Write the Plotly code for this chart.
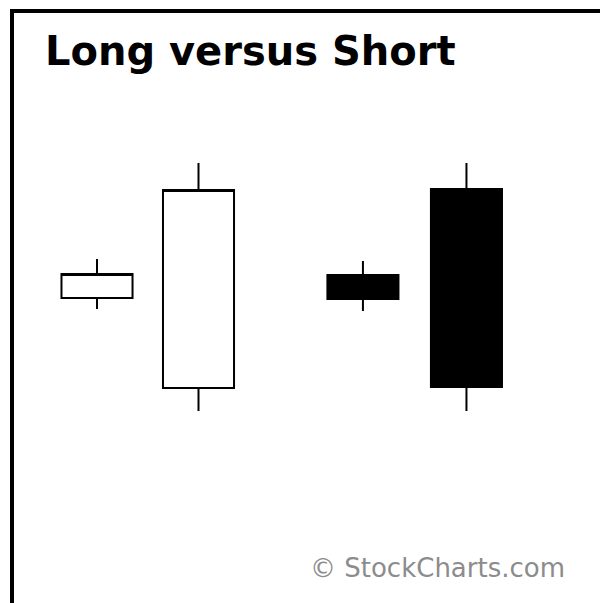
import plotly.graph_objects as go

# candle positions (two white, then two black) and prices
candle_x = [1, 2, 3.62, 4.64]
opens = [30.5, 21.5, 32.8, 41.4]
highs = [34.4, 44.0, 34.2, 44.0]
lows = [29.4, 19.2, 29.2, 19.2]
closes = [32.9, 41.3, 30.4, 21.6]

title_text = "Long versus Short"
credit_text = "© StockCharts.com"

W, H = 600, 603


def px(x):
    return x / W


def py(y):
    return 1 - y / H


fig = go.Figure(go.Candlestick(
    x=candle_x, open=opens, high=highs, low=lows, close=closes,
    increasing=dict(fillcolor="white", line=dict(color="black", width=2)),
    decreasing=dict(fillcolor="black", line=dict(color="black", width=2)),
    whiskerwidth=0,
    showlegend=False,
    hoverinfo="skip",
))

# frame: top and left black border
fig.add_shape(type="line", xref="paper", yref="paper",
              x0=px(10), x1=1, y0=py(11), y1=py(11),
              line=dict(color="black", width=4))
fig.add_shape(type="line", xref="paper", yref="paper",
              x0=px(12), x1=px(12), y0=py(9), y1=0,
              line=dict(color="black", width=4))

fig.add_annotation(text="<b>" + title_text + "</b>", xref="paper", yref="paper",
                   x=px(43), y=py(76), xanchor="left", yanchor="bottom",
                   showarrow=False,
                   font=dict(family="DejaVu Sans", size=40, color="black"))
fig.add_annotation(text=credit_text, xref="paper", yref="paper",
                   x=px(567), y=py(568), xanchor="right", yanchor="middle",
                   showarrow=False,
                   font=dict(family="DejaVu Sans", size=26, color="#8c8c8c"))

scale = 101.5  # px per x unit
fig.update_layout(
    width=W, height=H,
    margin=dict(l=0, r=0, t=0, b=0),
    paper_bgcolor="white", plot_bgcolor="white",
    boxgap=0.3, boxgroupgap=0,
    xaxis=dict(range=[1 - 97 / scale, 1 - 97 / scale + W / scale],
               visible=False, rangeslider=dict(visible=False), fixedrange=True),
    yaxis=dict(range=[0, H / 10], visible=False, fixedrange=True),
)

# drop the default page margin and any scrollbars
fig.write_html("out.html",
               config={"displayModeBar": False},
               post_script="document.body.style.margin='0';"
                           "document.body.style.overflow='hidden';"
                           "document.documentElement.style.overflow='hidden';")
